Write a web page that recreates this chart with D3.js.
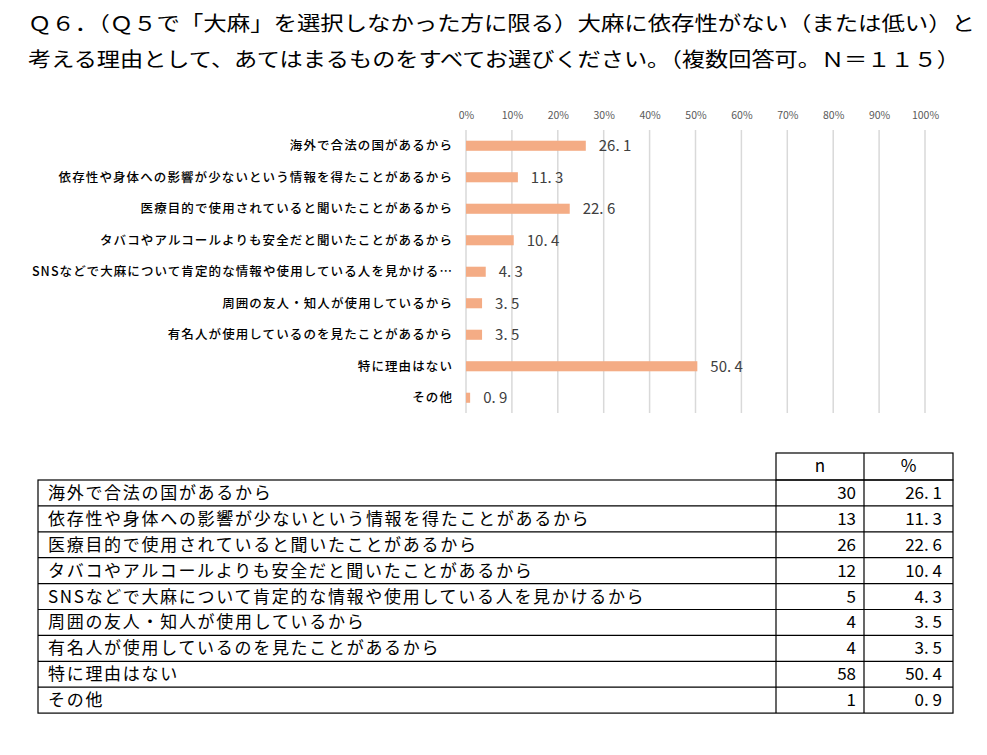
<!DOCTYPE html>
<html><head><meta charset="utf-8">
<script src="https://cdn.jsdelivr.net/npm/d3@7"></script>
<style>body{margin:0;background:#fff;} svg{display:block;}</style>
</head><body>
<svg id="c" width="987" height="755"></svg>
<script>
const titleLines = [
  "Ｑ６．（Ｑ５で「大麻」を選択しなかった方に限る）大麻に依存性がない（または低い）と",
  "考える理由として、あてはまるものをすべてお選びください。（複数回答可。Ｎ＝１１５）"
];
const categories = [
  "海外で合法の国があるから",
  "依存性や身体への影響が少ないという情報を得たことがあるから",
  "医療目的で使用されていると聞いたことがあるから",
  "タバコやアルコールよりも安全だと聞いたことがあるから",
  "SNSなどで大麻について肯定的な情報や使用している人を見かけるから",
  "周囲の友人・知人が使用しているから",
  "有名人が使用しているのを見たことがあるから",
  "特に理由はない",
  "その他"
];
const counts = [30, 13, 26, 12, 5, 4, 4, 58, 1];
const percents = [26.1, 11.3, 22.6, 10.4, 4.3, 3.5, 3.5, 50.4, 0.9];
const xTicks = [0, 10, 20, 30, 40, 50, 60, 70, 80, 90, 100];
const tableHeaders = ["n", "%"];

const svg = d3.select("#c");
const jp = "'Noto Sans CJK JP','Noto Sans',sans-serif";

// Title
const tl = [[28, 947], [28, 932]];
titleLines.forEach((t, i) => {
  svg.append("text").attr("x", tl[i][0]).attr("y", 30.5 + i * 36)
    .attr("font-family", jp).attr("font-size", 20).attr("fill", "#000")
    .attr("textLength", tl[i][1]).attr("lengthAdjust", "spacingAndGlyphs")
    .text(t);
});

// Chart
const x = d3.scaleLinear().domain([0, 100]).range([466, 925]);
const y = d3.scaleBand().domain(d3.range(categories.length)).range([130, 413.5]).paddingInner(0.68).paddingOuter(0.34);

const g = svg.append("g");
g.selectAll("line.grid").data(xTicks).join("line")
  .attr("x1", d => x(d)).attr("x2", d => x(d))
  .attr("y1", 130).attr("y2", 413)
  .attr("stroke", "#d9d9d9").attr("stroke-width", 1.5);

const axis = d3.axisTop(x).tickValues(xTicks).tickSize(0).tickPadding(0).tickFormat(d => d + "%");
const ag = g.append("g").attr("transform", "translate(0,119)").call(axis);
ag.select(".domain").remove();
ag.selectAll("text").attr("font-family", jp).attr("font-size", 10.5).attr("fill", "#595959");

g.selectAll("rect.bar").data(percents).join("rect")
  .attr("x", x(0)).attr("y", (d, i) => y(i))
  .attr("width", d => x(d) - x(0)).attr("height", y.bandwidth())
  .attr("fill", "#F4AC85");

g.selectAll("text.val").data(percents).join("text")
  .attr("x", d => x(d) + 13).attr("y", (d, i) => y(i) + y.bandwidth() / 2)
  .attr("dy", "0.36em")
  .attr("font-family", jp).attr("font-size", 15).attr("fill", "#404040")
  .text(d => d.toFixed(1).replace(".", ". "));

const maxW = 422;
g.selectAll("text.cat").data(categories).join("text")
  .attr("x", 453).attr("y", (d, i) => y(i) + y.bandwidth() / 2)
  .attr("dy", "0.35em").attr("text-anchor", "end")
  .attr("font-family", jp).attr("font-size", 12.5).attr("font-weight", 500).attr("fill", "#000")
  .attr("letter-spacing", 1.1)
  .text(d => d)
  .each(function(d) {
    const el = d3.select(this);
    let s = d;
    if (this.getComputedTextLength() > maxW) {
      while (s.length > 1) {
        s = s.slice(0, -1);
        el.text(s + "…");
        if (this.getComputedTextLength() <= maxW) break;
      }
    }
  });

// Table
const tLeft = 38, tRight = 953, c1 = 776, c2 = 864;
const hTop = 453, rTop = 480, rowH = 25.9;
const tg = svg.append("g").attr("stroke", "#000").attr("stroke-width", 1.2).attr("fill", "none");
tg.append("rect").attr("x", c1).attr("y", hTop).attr("width", tRight - c1).attr("height", rTop - hTop);
tg.append("line").attr("x1", c2).attr("x2", c2).attr("y1", hTop).attr("y2", rTop);
const rows = d3.range(categories.length);
tg.append("rect").attr("x", tLeft).attr("y", rTop).attr("width", tRight - tLeft).attr("height", rowH * rows.length);
tg.selectAll("line.h").data(rows.slice(1)).join("line")
  .attr("x1", tLeft).attr("x2", tRight).attr("y1", d => rTop + d * rowH).attr("y2", d => rTop + d * rowH);
[c1, c2].forEach(cx => tg.append("line").attr("x1", cx).attr("x2", cx).attr("y1", rTop).attr("y2", rTop + rowH * rows.length));

const th = svg.append("g").attr("font-family", jp).attr("font-size", 17).attr("fill", "#000");
th.selectAll("text.hd").data(tableHeaders).join("text")
  .attr("text-anchor", "middle").attr("dy", "0.35em")
  .attr("x", (d, i) => i === 0 ? (c1 + c2) / 2 : (c2 + tRight) / 2)
  .attr("y", (hTop + rTop) / 2)
  .text(d => d);
th.selectAll("text.lab").data(categories).join("text")
  .attr("dy", "0.35em").attr("letter-spacing", 1.7)
  .attr("x", tLeft + 10).attr("y", (d, i) => rTop + (i + 0.5) * rowH)
  .text(d => d);
th.selectAll("text.n").data(counts).join("text")
  .attr("dy", "0.35em").attr("text-anchor", "end")
  .attr("x", c2 - 8).attr("y", (d, i) => rTop + (i + 0.5) * rowH)
  .text(d => d);
th.selectAll("text.p").data(percents).join("text")
  .attr("dy", "0.35em").attr("text-anchor", "end")
  .attr("x", tRight - 11).attr("y", (d, i) => rTop + (i + 0.5) * rowH)
  .text(d => d.toFixed(1).replace(".", ". "));
</script>
</body></html>
